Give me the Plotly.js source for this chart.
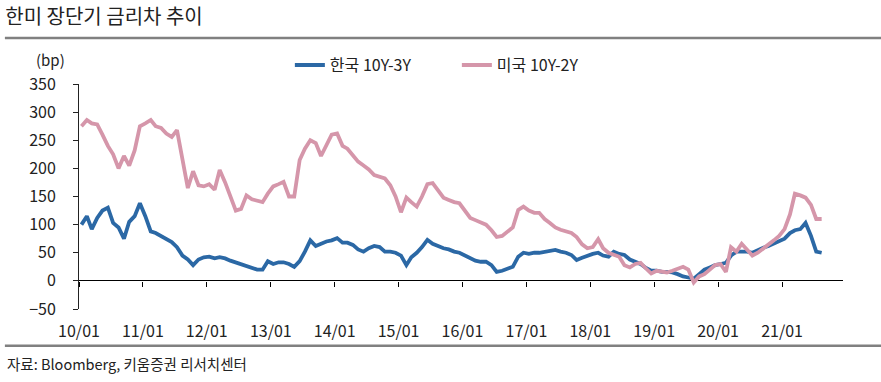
<!DOCTYPE html>
<html>
<head>
<meta charset="utf-8">
<script src="https://cdn.plot.ly/plotly-3.0.1.min.js"></script>
<style>html,body{margin:0;padding:0;background:#fff;}#chart{width:881px;height:382px;}</style>
</head>
<body>
<div id="chart"></div>
<script>
// Monthly observation dates (mid-month), 2010-01 .. 2021-08
const months = [];
for (let y = 2010; y <= 2021; y++) {
  for (let m = 1; m <= 12; m++) {
    if (y === 2021 && m > 8) break;
    months.push(y + '-' + String(m).padStart(2, '0') + '-15');
  }
}

// 한국 10Y-3Y (bp)
const krSpread = [
  100,115,92,112,125,130,103,95,75,105,115,138,
  115,88,85,80,75,69,60,45,38,28,38,42,
  43,40,42,40,36,33,30,26,23,20,20,35,
  30,33,33,30,25,35,52,72,62,66,70,72,
  76,68,68,64,56,52,58,62,60,52,52,50,
  45,28,42,50,60,73,66,62,58,56,52,50,
  45,40,36,34,34,28,16,18,22,25,43,50,
  48,50,50,52,54,55,52,50,46,37,41,45,
  48,50,45,43,52,48,46,38,34,30,23,18,
  18,16,16,15,12,8,6,4,12,20,24,28,
  30,32,45,52,52,52,50,55,59,62,66,70,
  75,85,90,92,103,80,52,50
];

// 미국 10Y-2Y (bp)
const usSpread = [
  275,286,280,278,260,240,225,200,222,205,232,275,
  280,286,275,272,262,256,268,215,165,195,170,168,
  172,162,197,175,150,125,128,152,145,142,140,155,
  168,172,176,150,150,215,235,250,245,222,240,260,
  262,240,235,222,212,205,198,188,185,182,170,150,
  122,148,140,132,150,172,174,160,148,144,140,138,
  126,112,108,103,100,90,78,80,88,95,126,132,
  125,121,121,110,103,95,91,88,85,78,65,58,
  60,74,58,50,46,43,28,24,30,32,22,13,
  18,17,15,18,22,25,20,-3,8,12,20,28,
  30,16,60,52,66,55,45,50,57,65,72,80,
  92,118,155,152,148,135,110,110
];

const seriesNames = ['한국 10Y-3Y', '미국 10Y-2Y'];
const yTickVals = [-50, 0, 50, 100, 150, 200, 250, 300, 350];

const FONT = '"Noto Sans CJK KR", "Noto Sans", sans-serif';
const xRange = ['2010-01-01', '2021-12-15'];

const traces = [
  {x: months, y: krSpread, name: seriesNames[0], type: 'scatter', mode: 'lines',
   line: {color: '#2B68A5', width: 3.8}, xaxis: 'x', yaxis: 'y'},
  {x: months, y: usSpread, name: seriesNames[1], type: 'scatter', mode: 'lines',
   line: {color: '#D596AA', width: 3.8}, xaxis: 'x', yaxis: 'y'},
  {x: [], y: [], xaxis: 'x2', yaxis: 'y', showlegend: false, hoverinfo: 'skip'}
];

const layout = {
  width: 881, height: 382,
  margin: {l: 79, r: 38, t: 84, b: 73},
  paper_bgcolor: '#fff', plot_bgcolor: '#fff',
  font: {family: FONT, size: 16, color: '#222'},
  showlegend: true,
  legend: {orientation: 'h', x: 0.276, xanchor: 'left', y: 1.084, yanchor: 'middle',
           entrywidth: 122, entrywidthmode: 'pixels',
           font: {family: FONT, size: 16, color: '#222'}, bgcolor: 'rgba(0,0,0,0)'},
  title: {text: '한미 장단기 금리차 추이', x: 0.006, xanchor: 'left', xref: 'container',
          y: 0.955, yanchor: 'middle', yref: 'container',
          font: {family: FONT, size: 20, color: '#222'}},
  xaxis: {type: 'date', range: xRange, anchor: 'free', position: 0.125,
          showline: false, ticks: 'outside', ticklen: 5, tickcolor: '#000', tickwidth: 1,
          tick0: '2010-01-01', dtick: 'M12', showticklabels: false,
          showgrid: false, zeroline: false},
  xaxis2: {type: 'date', range: xRange, overlaying: 'x', anchor: 'y', side: 'bottom',
           showline: false, ticks: '', tick0: '2010-01-01', dtick: 'M12',
           tickformat: '%y/%m', showgrid: false, zeroline: false,
           ticklabelstandoff: 11, tickfont: {family: FONT, size: 16, color: '#222'}},
  yaxis: {range: [-50, 350], tickvals: yTickVals, showline: true, linecolor: '#222', linewidth: 1,
          ticks: 'outside', ticklen: 5, tickcolor: '#222', showgrid: false,
          zeroline: true, zerolinecolor: '#000', zerolinewidth: 1,
          ticklabelstandoff: 14, tickfont: {family: FONT, size: 16, color: '#222'}},
  shapes: [
    {type: 'line', xref: 'paper', yref: 'paper', x0: -0.097, x1: 1.05, y0: 1.204, y1: 1.204,
     line: {color: '#808080', width: 2.5}},
    {type: 'line', xref: 'paper', yref: 'paper', x0: -0.097, x1: 1.05, y0: -0.163, y1: -0.163,
     line: {color: '#808080', width: 2.5}}
  ],
  annotations: [
    {text: '(bp)', xref: 'paper', yref: 'paper', x: -0.037, y: 1.11, xanchor: 'center', yanchor: 'middle',
     showarrow: false, font: {family: FONT, size: 15, color: '#222'}},
    {text: '자료: Bloomberg, 키움증권 리서치센터', xref: 'paper', yref: 'paper', x: -0.097, y: -0.24,
     xanchor: 'left', yanchor: 'middle', showarrow: false, font: {family: FONT, size: 14.5, color: '#222'}}
  ]
};

Plotly.newPlot('chart', traces, layout, {staticPlot: true, displayModeBar: false});
</script>
</body>
</html>
